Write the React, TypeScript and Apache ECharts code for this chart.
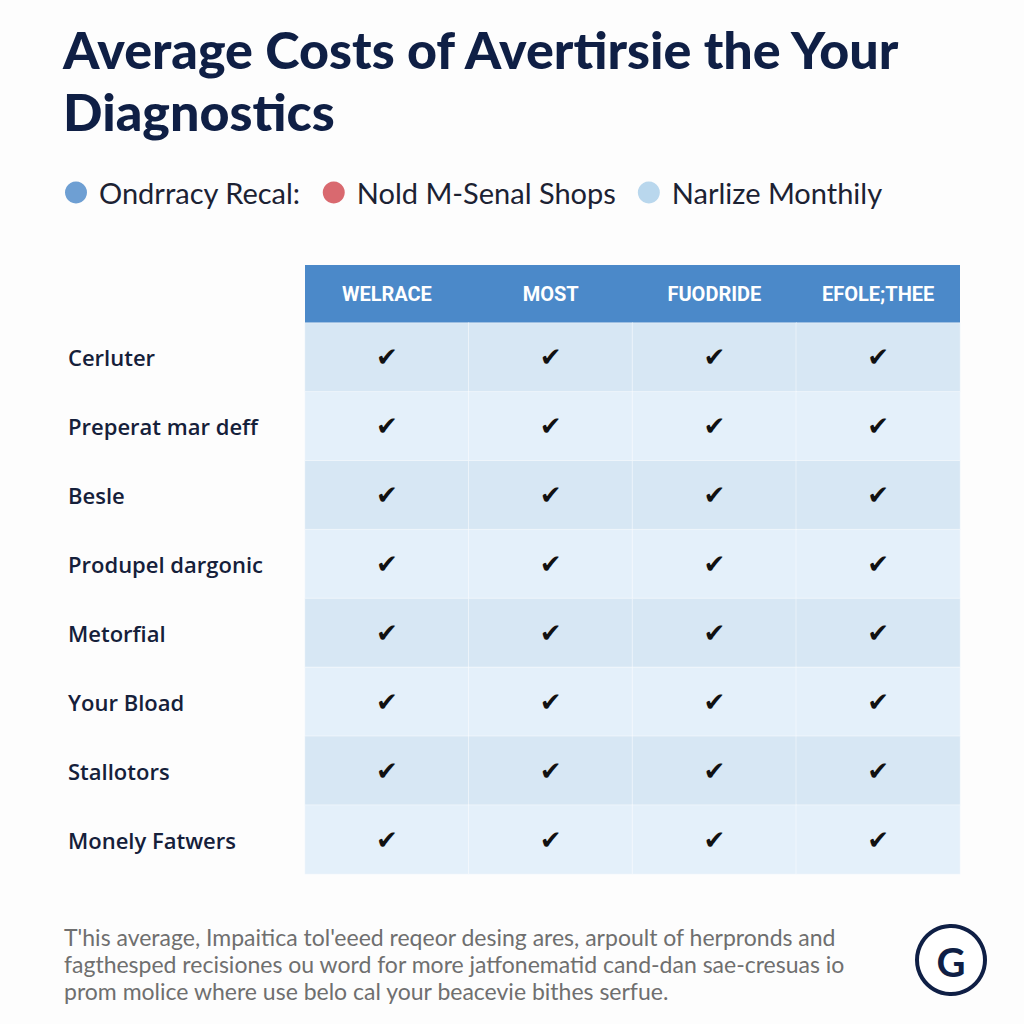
import React, { useEffect, useRef } from "react";
import * as echarts from "echarts";

const titleLines = ["Average Costs of Avertirsie the Your", "Diagnostics"];
const legendNames = ["Ondrracy Recal:", "Nold M-Senal Shops", "Narlize Monthily"];
const legendColors = ["#4a87c8", "#cf434b", "#a8cde9"];
const columns = ["WELRACE", "MOST", "FUODRIDE", "EFOLE;THEE"];
const rows = [
  "Cerluter",
  "Preperat mar deff",
  "Besle",
  "Produpel dargonic",
  "Metorfial",
  "Your Bload",
  "Stallotors",
  "Monely Fatwers",
];
// 1 = checked cell
const checks = [
  [1, 1, 1, 1],
  [1, 1, 1, 1],
  [1, 1, 1, 1],
  [1, 1, 1, 1],
  [1, 1, 1, 1],
  [1, 1, 1, 1],
  [1, 1, 1, 1],
  [1, 1, 1, 1],
];
const footerLines = [
  "T'his average, Impaitica tol'eeed reqeor desing ares, arpoult of herpronds and",
  "fagthesped recisiones ou word for more jatfonematid cand-dan sae-cresuas io",
  "prom molice where use belo cal your beacevie bithes serfue.",
];

export default function App() {
  const ref = useRef<HTMLDivElement>(null);
  useEffect(() => {
    if (!ref.current) return;
    const chart = echarts.init(ref.current, null, { renderer: "svg" });
    const cells: any[] = [];
    rows.forEach((r, ri) => {
      columns.forEach((c, ci) => {
        cells.push([ci, ri, checks[ri][ci]]);
      });
    });
    chart.setOption({
      animation: false,
      backgroundColor: "#fdfdfd",
      title: {
        text: titleLines.join("\n"),
        left: 58,
        top: 13,
        textStyle: {
          fontFamily: "Lato",
          fontWeight: 900,
          fontSize: 52,
          lineHeight: 62,
          color: "#0f1f45",
        },
      },
      legend: {
        data: legendNames.map((n) => ({ name: n, icon: "circle" })),
        left: 60,
        top: 173,
        itemWidth: 36,
        itemHeight: 22,
        itemGap: 22,
        textStyle: {
          fontFamily: "Lato",
          fontSize: 29,
          color: "#1c2233",
        },
      },
      visualMap: {
        show: false,
        type: "piecewise",
        seriesIndex: 0,
        dimension: 1,
        pieces: rows.map((_, i) => ({
          value: i,
          color: i % 2 === 0 ? "#d7e7f4" : "#e4f0fa",
        })),
      },
      grid: { left: 305, right: 64, top: 323, bottom: 150 },
      xAxis: {
        type: "category",
        position: "top",
        data: columns,
        axisLine: { show: false },
        axisTick: { show: false },
        splitLine: { show: false },
        axisLabel: {
          color: "#ffffff",
          fontFamily: "Roboto",
          fontWeight: "bold",
          fontSize: 20,
          margin: 29,
          verticalAlign: "middle",
        },
      },
      yAxis: {
        type: "category",
        data: rows,
        inverse: true,
        axisLine: { show: false },
        axisTick: { show: false },
        splitLine: { show: false },
        axisLabel: {
          align: "left",
          margin: 237,
          color: "#15203a",
          fontFamily: "Open Sans",
          fontSize: 22,
          fontWeight: 600,
        },
      },
      graphic: [
        {
          type: "rect",
          shape: { x: 305, y: 265, width: 655, height: 58 },
          style: { fill: "#4b89c9" },
          z: -1,
        },
        {
          type: "text",
          x: 64,
          y: 923,
          style: {
            text: footerLines.join("\n"),
            font: "23px Lato, sans-serif",
            lineHeight: 27,
            fill: "#6f6f6f",
          },
        },
        {
          type: "circle",
          shape: { cx: 951, cy: 960, r: 34 },
          style: { fill: "#ffffff", stroke: "#0f1f45", lineWidth: 4 },
        },
        {
          type: "text",
          x: 951,
          y: 962,
          style: {
            text: "G",
            font: "bold 40px Lato",
            fill: "#0f1f45",
            align: "center",
            verticalAlign: "middle",
          },
        },
      ],
      series: [
        {
          type: "heatmap",
          data: cells,
          itemStyle: { borderColor: "rgba(255,255,255,0.45)", borderWidth: 1 },
          label: {
            show: true,
            formatter: (p: any) => (p.value[2] ? "\u2714" : ""),
            fontFamily: "DejaVu Sans",
            fontSize: 26,
            color: "#111111",
          },
          emphasis: { disabled: true },
        },
        ...legendNames.map((n, i) => ({
          name: n,
          type: "scatter",
          data: [],
          itemStyle: { color: legendColors[i] },
        })),
      ],
    });
    return () => chart.dispose();
  }, []);
  return (
    <div
      ref={ref}
      style={{ position: "fixed", left: 0, top: 0, width: 1024, height: 1024 }}
    />
  );
}
